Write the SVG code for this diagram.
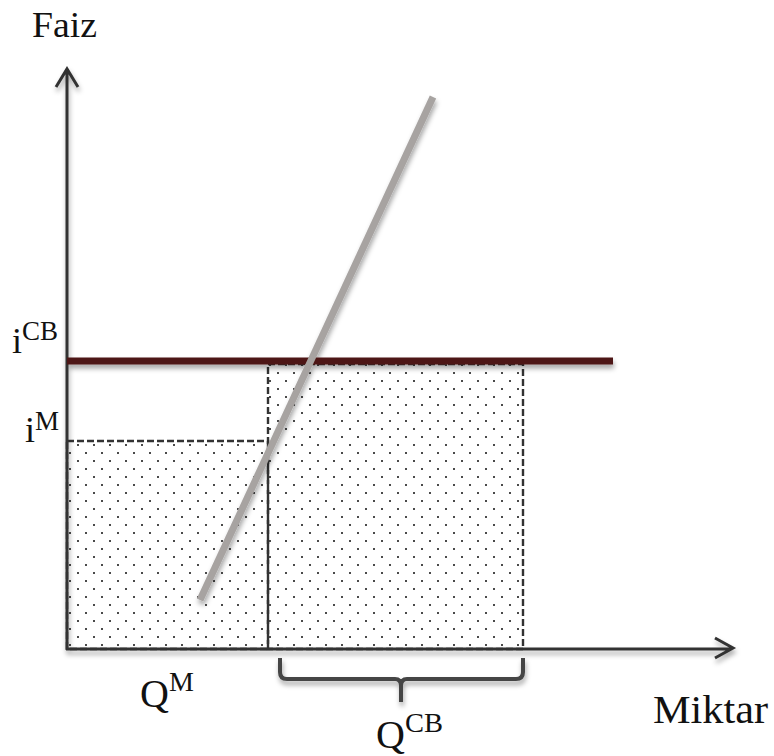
<svg xmlns="http://www.w3.org/2000/svg" width="774" height="756" viewBox="0 0 774 756">
<style>
.lbl{font-family:"Liberation Serif","Times New Roman",serif;fill:#111;}
.axis{stroke:#333;stroke-width:3;fill:none;}
.dash{stroke:#333;stroke-width:2.4;stroke-dasharray:7 3;fill:url(#dots);}
</style>
<defs>
<pattern id="dots" patternUnits="userSpaceOnUse" x="5" y="4" width="16" height="16">
<rect x="0" y="0" width="2" height="2" fill="#4a4a4a"/>
<rect x="8" y="8" width="2" height="2" fill="#4a4a4a"/>
</pattern>
<filter id="sh" x="-10%" y="-10%" width="120%" height="130%">
<feDropShadow dx="1" dy="4" stdDeviation="2.5" flood-color="#000" flood-opacity="0.35"/>
</filter>
</defs>
<rect width="774" height="756" fill="#fff"/>
<g id="areas">
<rect id="area-m" class="dash" x="67" y="441" width="201" height="208"/>
<rect id="area-cb" class="dash" x="268" y="364" width="255" height="285"/>
</g>
<g id="connectors" filter="url(#sh)">
<path id="y-axis" class="axis" d="M67 650 V70 M56 87 L67 69 L78 87"/>
<path id="x-axis" class="axis" d="M66 649 H732 M715 638 L733 648 L715 658"/>
<line id="icb-line" x1="67" y1="361" x2="613" y2="361" stroke="#4e1712" stroke-width="7"/>
<line id="supply" x1="200" y1="600" x2="433" y2="97" stroke="#a7a3a1" stroke-width="7"/>
<path id="brace" d="M280 658 V672 Q280 679 287 679 H395 Q401 679 401 686 V702 M401 686 Q401 679 407 679 H516 Q523 679 523 672 V658" fill="none" stroke="#444" stroke-width="4"/>
</g>
<g id="labels">
<text class="lbl" x="32" y="37" font-size="36" textLength="65" lengthAdjust="spacingAndGlyphs">Faiz</text>
<text class="lbl" x="12" y="353" font-size="36">i<tspan font-size="27" dy="-13" textLength="36" lengthAdjust="spacingAndGlyphs">CB</tspan></text>
<text class="lbl" x="25" y="442" font-size="36">i<tspan font-size="27" dy="-12">M</tspan></text>
<text class="lbl" x="140" y="707" font-size="40">Q<tspan font-size="28" dy="-16">M</tspan></text>
<text class="lbl" x="376" y="748" font-size="40">Q<tspan font-size="28" dy="-16" textLength="38" lengthAdjust="spacingAndGlyphs">CB</tspan></text>
<text class="lbl" x="653" y="723" font-size="40" textLength="115" lengthAdjust="spacingAndGlyphs">Miktar</text>
</g>
</svg>
